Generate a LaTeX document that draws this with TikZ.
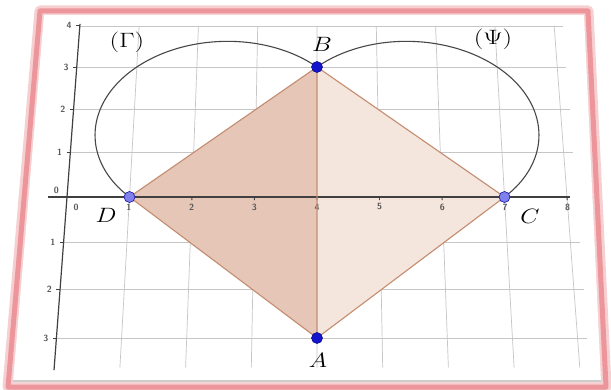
\documentclass[tikz,border=0pt]{standalone}
\begin{document}
\begin{tikzpicture}[x=1pt,y=1pt,
  declare function={px(\a,\b)=(67+62.5*\a+4.29*\b)/(1+0.01353*\b);
                    py(\a,\b)=-(197-42.43*\b)/(1+0.01353*\b);},
  gridline/.style={draw=gray!45,line width=0.7pt},
  axisline/.style={draw=black!75,line width=1.2pt},
  tickline/.style={draw=black!75,line width=0.9pt},
  arcline/.style={draw=black!72,line width=1.1pt},
  edgeline/.style={draw=edgecol,line width=1.1pt},
  darkdot/.style={circle,inner sep=0pt,minimum size=11pt,fill=dotdark,draw=dotdark!70!black,line width=0.6pt},
  lightdot/.style={circle,inner sep=0pt,minimum size=11pt,fill=dotlight,draw=dotdark!80!black,line width=0.6pt},
  ptlabel/.style={inner sep=0pt,font=\fontsize{21}{24}\selectfont},
  ticklab/.style={inner sep=0pt,text=black!65,font=\fontsize{9}{10}\selectfont\sffamily\bfseries}]
\definecolor{edgecol}{RGB}{196,140,112}
\definecolor{lefttri}{RGB}{229,198,183}
\definecolor{righttri}{RGB}{244,229,221}
\definecolor{dotdark}{RGB}{20,20,205}
\definecolor{dotlight}{RGB}{128,128,236}
\definecolor{framepink}{RGB}{236,150,155}
\useasboundingbox (0,0) rectangle (611,-390);
\fill[white] (0,0) rectangle (611,-390);
% board
\draw[framepink,line width=11pt,line join=round,fill=white,opacity=0.45]
  (40,-11) -- (588,-11) -- (606,-387) -- (8,-387) -- cycle;
\draw[framepink,line width=5pt,line join=round]
  (40,-11) -- (588,-11) -- (606,-387) -- (8,-387) -- cycle;
\fill[white] (44,-15) -- (584,-15) -- (601,-382) -- (13,-382) -- cycle;
\draw[gray!40,line width=1.5pt] (13,-381) -- (601,-381);
% grid
\foreach \i in {1,...,8}
  \draw[gridline] ({px(\i,-3.6)},{py(\i,-3.6)}) -- ({px(\i,4)},{py(\i,4)});
\foreach \j in {-3,-2,-1,1,2,3,4}
  \draw[gridline] ({px(0,\j)},{py(0,\j)}) -- ({px(8.15,\j)},{py(8.15,\j)});
% points
\coordinate (pA) at ({px(4,-3)},{py(4,-3)});
\coordinate (pB) at ({px(4,3)},{py(4,3)});
\coordinate (pC) at ({px(7,0)},{py(7,0)});
\coordinate (pD) at ({px(1,0)},{py(1,0)});
% fills
\fill[lefttri] (pD) -- (pB) -- (pA) -- cycle;
\fill[righttri] (pB) -- (pC) -- (pA) -- cycle;
% axes
\draw[axisline] ({px(-0.3,0)},{py(-0.3,0)}) -- ({px(8.05,0)},{py(8.05,0)});
\draw[axisline] ({px(0,-3.65)},{py(0,-3.65)}) -- ({px(0,4.05)},{py(0,4.05)});
\foreach \i in {1,...,8}
  \draw[tickline] ({px(\i,0)},{py(\i,0)}) -- ({px(\i,-0.07)},{py(\i,-0.07)});
\foreach \j in {-3,-2,-1,1,2,3,4}
  \draw[tickline] ({px(0,\j)},{py(0,\j)}) -- ({px(-0.06,\j)},{py(-0.06,\j)});
% tick labels
\foreach \i in {1,...,8}
  \node[ticklab] (xl\i) at ({px(\i,-0.22)},{py(\i,-0.22)}) {\i};
\node[ticklab] (xl0) at (76,-207) {0};
\foreach \j/\t in {4/4,3/3,2/2,1/1,-1/1,-2/2,-3/3}
  \node[ticklab,anchor=east] (yl\j) at ({px(0,\j)-8},{py(0,\j)}) {\t};
\node[ticklab,anchor=east] (yl0) at (59,-190) {0};
% semicircles
\draw[arcline] plot[domain=45:225,samples=90,smooth]
  ({px(2.5+2.1213*cos(\x),1.5+2.1213*sin(\x))},{py(2.5+2.1213*cos(\x),1.5+2.1213*sin(\x))});
\draw[arcline] plot[domain=-45:135,samples=90,smooth]
  ({px(5.5+2.1213*cos(\x),1.5+2.1213*sin(\x))},{py(5.5+2.1213*cos(\x),1.5+2.1213*sin(\x))});
% edges
\draw[edgeline] (pD) -- (pB) -- (pC) -- (pA) -- cycle;
\draw[edgeline] (pB) -- (pA);
% dots
\node[darkdot] (B) at (pB) {};
\node[darkdot] (A) at (pA) {};
\node[lightdot] (C) at (pC) {};
\node[lightdot] (D) at (pD) {};
% labels
\node[ptlabel] (lB) at (322,-44) {\scalebox{1.2}[1]{$B$}};
\node[ptlabel] (lA) at (318,-360) {\scalebox{1.2}[1]{$A$}};
\node[ptlabel] (lD) at (106,-215) {\scalebox{1.2}[1]{$D$}};
\node[ptlabel] (lC) at (530,-216) {\scalebox{1.2}[1]{$C$}};
\node[ptlabel] (lG) at (127,-42) {\scalebox{1.3}[1]{$(\Gamma)$}};
\node[ptlabel] (lP) at (493,-39) {\scalebox{1.3}[1]{$(\Psi)$}};
\end{tikzpicture}
\end{document}
